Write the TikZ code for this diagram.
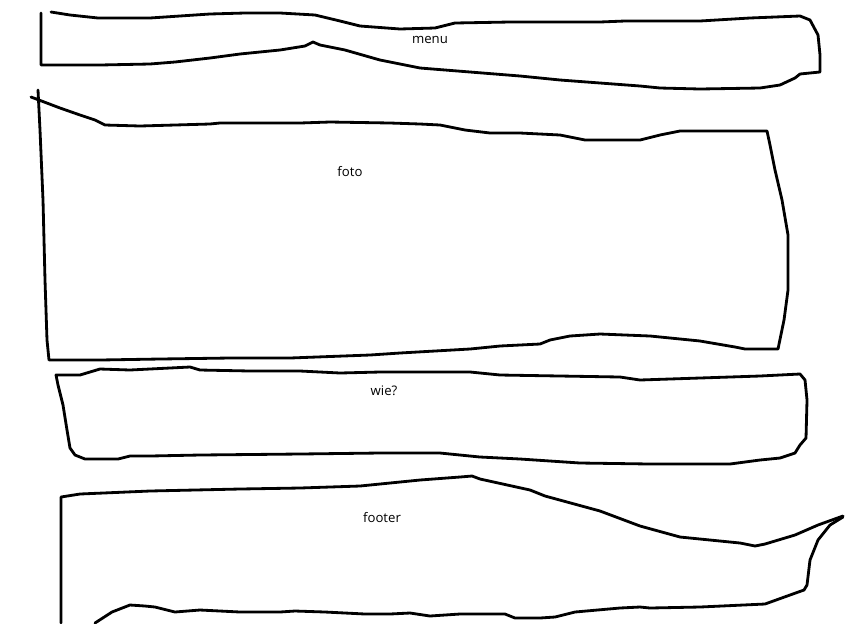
\documentclass[tikz,border=0pt]{standalone}
\usepackage{fontspec}
\setmainfont{Open Sans}
\tikzset{
  sketch/.style={line width=1.6pt, line join=round, line cap=round},
  lbl/.style={font=\fontsize{7.5}{9}\selectfont, text=black, inner sep=0pt}
}
\begin{document}
\begin{tikzpicture}[x=0.02cm, y=-0.02cm]
    \useasboundingbox (0,0) rectangle (847,623);
    % menu
    \draw[sketch] (51,12) -- (70,15) -- (98,18) -- (150,18) -- (165,17) -- (210,14) -- (245,13) -- (280,13) -- (315,15) -- (340,21) -- (360,26) -- (400,29) -- (435,28) -- (455,23) -- (510,22) -- (600,22) -- (625,21) -- (700,21) -- (750,18) -- (800,16) -- (810,20) -- (818,35) -- (820,55) -- (820,72) -- (800,74) -- (795,78) -- (780,85) -- (760,88) -- (700,89) -- (660,88) -- (640,86) -- (600,83) -- (560,80) -- (520,76) -- (470,72) -- (420,68) -- (380,60) -- (345,50) -- (320,45) -- (313,42) -- (305,46) -- (280,50) -- (240,54) -- (210,58) -- (175,62) -- (150,64) -- (100,65) -- (41,65) -- (41,13);
    \node[lbl] (menu) at (430,40) {menu};
    % foto
    \draw[sketch] (38,90) -- (40,130) -- (43,200) -- (45,280) -- (47,340) -- (49,360) -- (100,360) -- (160,359) -- (230,358) -- (290,358) -- (370,355) -- (400,353) -- (470,349) -- (500,346) -- (540,344) -- (550,340) -- (570,336) -- (600,334) -- (650,336) -- (700,341) -- (735,347) -- (745,349) -- (778,349) -- (784,320) -- (788,290) -- (788,235) -- (782,200) -- (775,170) -- (770,145) -- (767,131) -- (680,131) -- (660,135) -- (640,140) -- (585,140) -- (560,135) -- (520,133) -- (490,133) -- (465,130) -- (440,125) -- (420,124) -- (390,123) -- (330,122) -- (300,123) -- (220,123) -- (210,124) -- (140,126) -- (105,125) -- (95,120) -- (80,115) -- (60,108) -- (31,97);
    \node[lbl] (foto) at (350,172) {foto};
    % wie?
    \draw[sketch] (56,375) -- (80,375) -- (100,369) -- (130,370) -- (190,367) -- (200,370) -- (250,371) -- (300,371) -- (340,373) -- (380,372) -- (470,372) -- (500,375) -- (560,376) -- (620,377) -- (640,380) -- (700,378) -- (760,376) -- (800,374) -- (805,380) -- (807,400) -- (806,438) -- (800,445) -- (795,453) -- (780,458) -- (760,460) -- (730,464) -- (650,464) -- (580,463) -- (520,459) -- (480,457) -- (440,453) -- (380,453) -- (300,454) -- (200,455) -- (150,456) -- (130,456) -- (118,459) -- (85,459) -- (75,455) -- (70,448) -- (67,430) -- (63,405) -- (58,385) -- cycle;
    \node[lbl] (wie) at (384,391) {wie?};
    % footer
    \draw[sketch] (61,623) -- (61,497) -- (80,494) -- (150,491) -- (240,489) -- (300,488) -- (360,486) -- (380,484) -- (420,480) -- (460,477) -- (472,476) -- (480,479) -- (530,490) -- (545,496) -- (600,511) -- (640,526) -- (680,537) -- (740,543) -- (755,546) -- (765,544) -- (795,535) -- (818,525) -- (843,516);
    \draw[sketch] (843,517) -- (830,525) -- (818,540) -- (810,560) -- (807,585) -- (804,590) -- (790,595) -- (765,604) -- (700,607) -- (650,608) -- (640,607) -- (620,608) -- (575,612) -- (555,617) -- (540,618) -- (515,618) -- (505,614) -- (460,614) -- (430,616) -- (410,613) -- (390,614) -- (365,614) -- (325,612) -- (295,611) -- (280,612) -- (240,612) -- (220,611) -- (200,610) -- (175,612) -- (155,607) -- (145,606) -- (130,605) -- (112,612) -- (95,623);
    \node[lbl] (footer) at (382,518) {footer};
\end{tikzpicture}
\end{document}
